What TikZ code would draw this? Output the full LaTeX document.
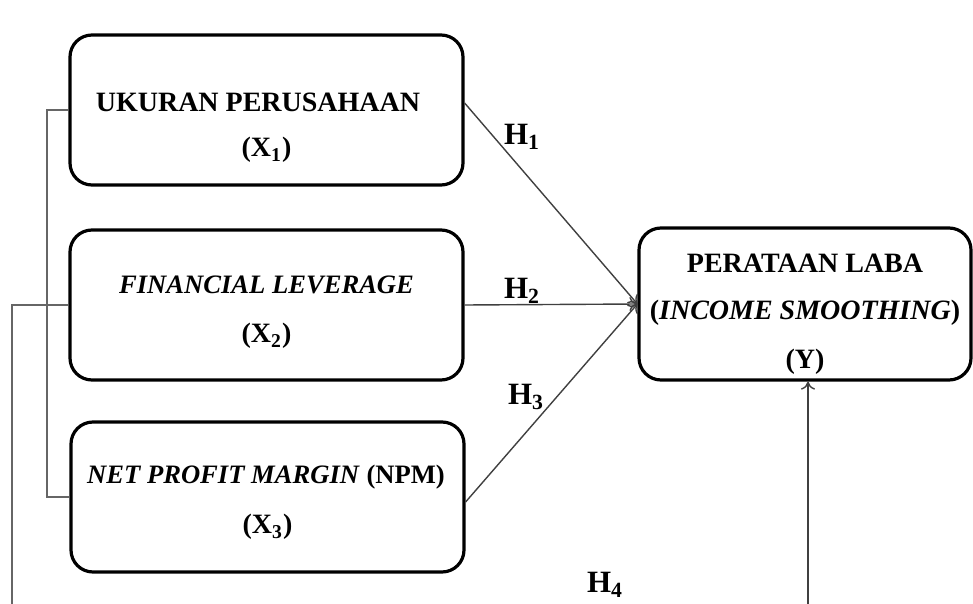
\documentclass[tikz,border=0pt]{standalone}
\usepackage{fontspec}
\setmainfont{Liberation Serif}
\usetikzlibrary{arrows.meta}
\begin{document}
\begin{tikzpicture}[x=0.5pt,y=-0.5pt,
  varbox/.style={draw=black, line width=1.6pt, rounded corners=11pt, minimum width=196.5pt, minimum height=75pt, inner sep=0pt},
  ybox/.style={draw=black, line width=1.6pt, rounded corners=11pt, minimum width=166pt, minimum height=76pt, inner sep=0pt},
  lbl/.style={font=\fontsize{14}{16}\selectfont\bfseries, inner sep=0pt},
  ilbl/.style={font=\fontsize{13.3}{16}\selectfont\bfseries, inner sep=0pt},
  hlbl/.style={font=\fontsize{15.5}{18}\selectfont, inner sep=0pt},
  hyp/.style={draw=black!75, line width=0.7pt, -{To[length=4pt,width=7pt]}},
  brk/.style={draw=black!60, line width=0.55pt}]
\useasboundingbox (0,0) rectangle (973,604);
% boxes
\node[varbox] (b1) at (266.5,110) {};
\node[varbox] (b2) at (266.5,305) {};
\node[varbox] (b3) at (267.5,497) {};
\node[ybox] (Y) at (805,304) {};
% texts
\node[lbl] (t1a) at (258,102) {UKURAN PERUSAHAAN};
\node[lbl] (t1b) at (266.5,150) {($\mathbf{X_1}$)};
\node[ilbl] (t2a) at (266.5,285) {\itshape FINANCIAL LEVERAGE};
\node[lbl] (t2b) at (266.5,336) {($\mathbf{X_2}$)};
\node[ilbl] (t3a) at (266,477) {\textit{NET PROFIT MARGIN} (NPM)};
\node[lbl] (t3b) at (267.5,527) {($\mathbf{X_3}$)};
\node[lbl] (ya) at (805,263) {PERATAAN LABA};
\node[lbl] (yb) at (805,313) {(\textit{INCOME SMOOTHING})};
\node[lbl] (yc) at (805,362) {(Y)};
% coordinates
\coordinate (k1) at (47,110);
\coordinate (k3) at (47,497);
\coordinate (c1) at (12,604);
\coordinate (c2) at (808,604);
% bracket lines
\draw[brk] (b1.west) -- (k1) -- (k3) -- (b3.west);
\draw[brk] (b2.west) -- (b2.west -| c1) -- (c1);
% hypotheses arrows
\draw[hyp] ([yshift=3.5pt]b1.east) -- (Y.west);
\draw[hyp] (b2.east) -- (Y.west);
\draw[hyp] ([yshift=-2.5pt]b3.east) -- (Y.west);
\draw[hyp] (c2) -- (c2 |- Y.south);
% labels
\node[hlbl] (h1) at (522,137) {$\mathbf{H_1}$};
\node[hlbl] (h2) at (522,291) {$\mathbf{H_2}$};
\node[hlbl] (h3) at (526,397) {$\mathbf{H_3}$};
\node[hlbl] (h4) at (605,585) {$\mathbf{H_4}$};
\end{tikzpicture}
\end{document}
